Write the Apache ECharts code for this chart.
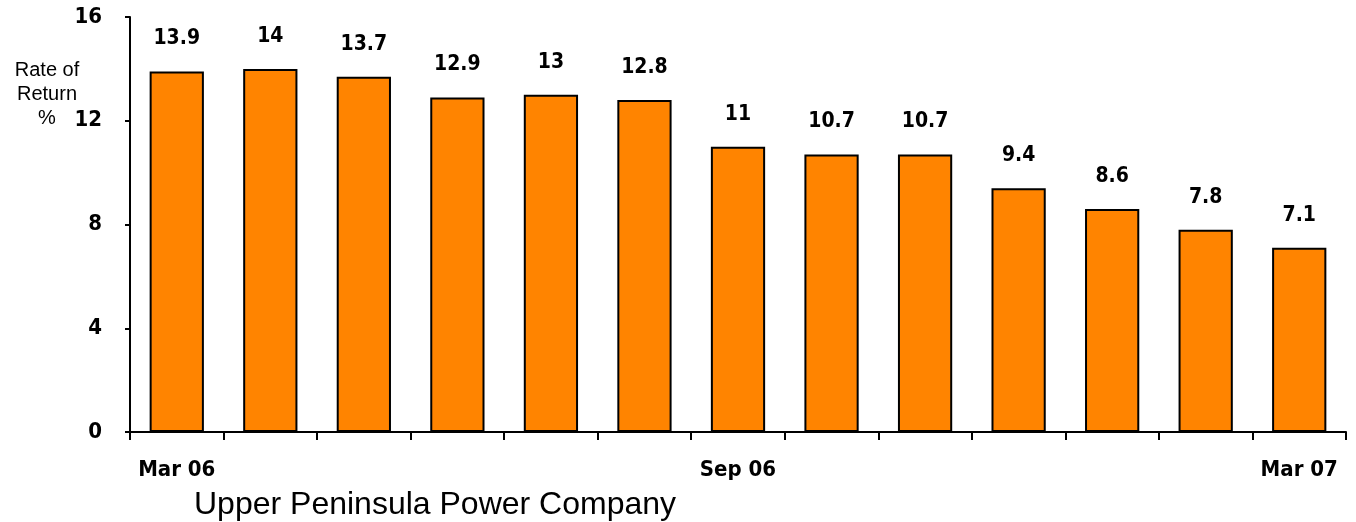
<!DOCTYPE html>
<html>
<head>
<meta charset="utf-8">
<script src="https://cdn.jsdelivr.net/npm/echarts@6/dist/echarts.min.js"></script>
<style>
html,body{margin:0;padding:0;background:#fff;}
#chart{width:1356px;height:522px;}
</style>
</head>
<body>
<div id="chart"></div>
<script>
const categories = ['Mar 06','Apr 06','May 06','Jun 06','Jul 06','Aug 06','Sep 06','Oct 06','Nov 06','Dec 06','Jan 07','Feb 07','Mar 07'];
const rateOfReturn = [13.9, 14, 13.7, 12.9, 13, 12.8, 11, 10.7, 10.7, 9.4, 8.6, 7.8, 7.1];
const yTicks = [0, 4, 8, 12, 16];
const yAxisTitle = 'Rate of\nReturn\n%';
const footerText = 'Upper Peninsula Power Company';

const narrow = '"Liberation Sans Narrow", "Arial Narrow", "DejaVu Sans Condensed", sans-serif';
const chart = echarts.init(document.getElementById('chart'), null, {renderer: 'canvas'});
chart.setOption({
  animation: false,
  backgroundColor: '#ffffff',
  grid: {left: 130, right: 10, top: 17, bottom: 90, containLabel: false},
  title: {
    text: footerText, left: 189, top: 484,
    textStyle: {fontFamily: '"Liberation Sans", Arial, sans-serif', fontWeight: 'normal', fontSize: 32, color: '#000'}
  },
  graphic: [{
    type: 'text', x: 47, y: 58,
    style: {text: yAxisTitle, fontFamily: '"Liberation Sans", Arial, sans-serif', fontSize: 20, lineHeight: 24, align: 'center', verticalAlign: 'top', fill: '#000'}
  }],
  xAxis: {
    type: 'category', data: categories, boundaryGap: true,
    axisLine: {lineStyle: {color: '#000', width: 2}},
    axisTick: {show: true, interval: 0, length: 8, lineStyle: {color: '#000', width: 2}},
    axisLabel: {interval: 5, margin: 27, color: '#000', fontFamily: narrow, fontWeight: 'bold', fontSize: 22},
    splitLine: {show: false}
  },
  yAxis: {
    type: 'value', min: yTicks[0], max: yTicks[yTicks.length - 1], interval: 4,
    axisLine: {show: true, lineStyle: {color: '#000', width: 2}},
    axisTick: {show: true, length: 5, lineStyle: {color: '#000', width: 2}},
    axisLabel: {margin: 28, color: '#000', fontFamily: narrow, fontWeight: 'bold', fontSize: 22},
    splitLine: {show: false}
  },
  series: [{
    type: 'bar', data: rateOfReturn, barWidth: '58%',
    itemStyle: {color: '#ff8400', borderColor: '#000', borderWidth: 2},
    label: {show: true, position: 'top', distance: 22, color: '#000', fontFamily: narrow, fontWeight: 'bold', fontSize: 21}
  }]
});
</script>
</body>
</html>
